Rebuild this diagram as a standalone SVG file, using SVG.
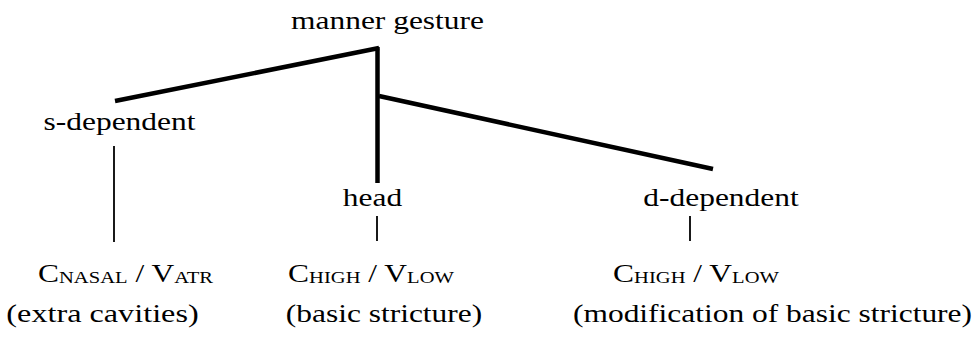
<svg xmlns="http://www.w3.org/2000/svg" width="980" height="343" viewBox="0 0 980 343">
  <rect width="980" height="343" fill="#fff"/>

  <!-- tree branches: thick upper tree, thin lower links -->
  <g id="connectors" stroke="#000" fill="none">
    <g stroke-width="4.5">
      <line x1="115" y1="101" x2="379" y2="48"/>
      <line x1="377.5" y1="47" x2="377.5" y2="183"/>
      <line x1="379" y1="96" x2="713" y2="169"/>
    </g>
    <g stroke-width="1.8">
      <line x1="114" y1="146" x2="114" y2="242"/>
      <line x1="377" y1="216" x2="377" y2="241"/>
      <line x1="690" y1="216" x2="690" y2="241"/>
    </g>
  </g>

  <!-- labels: serif face, widened horizontally -->
  <g font-family="Liberation Serif" font-size="26" text-anchor="middle" fill="#000">
    <g id="manner-gesture">
      <text transform="translate(387.5 29) scale(1.21 1)">manner gesture</text>
    </g>

    <g id="s-dependent">
      <text transform="translate(119.5 130) scale(1.21 1)">s-dependent</text>
      <text transform="translate(125.5 282) scale(1.21 1)">C<tspan font-size="17" dy="1">NASAL</tspan><tspan dy="-1"> / V</tspan><tspan font-size="17" dy="1">ATR</tspan></text>
      <text transform="translate(102.5 322) scale(1.24 1)">(extra cavities)</text>
    </g>

    <g id="head">
      <text transform="translate(372.5 206) scale(1.21 1)">head</text>
      <text transform="translate(371 282) scale(1.21 1)">C<tspan font-size="17" dy="1">HIGH</tspan><tspan dy="-1"> / V</tspan><tspan font-size="17" dy="1">LOW</tspan></text>
      <text transform="translate(384 322) scale(1.21 1)">(basic stricture)</text>
    </g>

    <g id="d-dependent">
      <text transform="translate(721 206) scale(1.21 1)">d-dependent</text>
      <text transform="translate(696 282) scale(1.21 1)">C<tspan font-size="17" dy="1">HIGH</tspan><tspan dy="-1"> / V</tspan><tspan font-size="17" dy="1">LOW</tspan></text>
      <text transform="translate(772.5 322) scale(1.21 1)">(modification of basic stricture)</text>
    </g>
  </g>
</svg>
